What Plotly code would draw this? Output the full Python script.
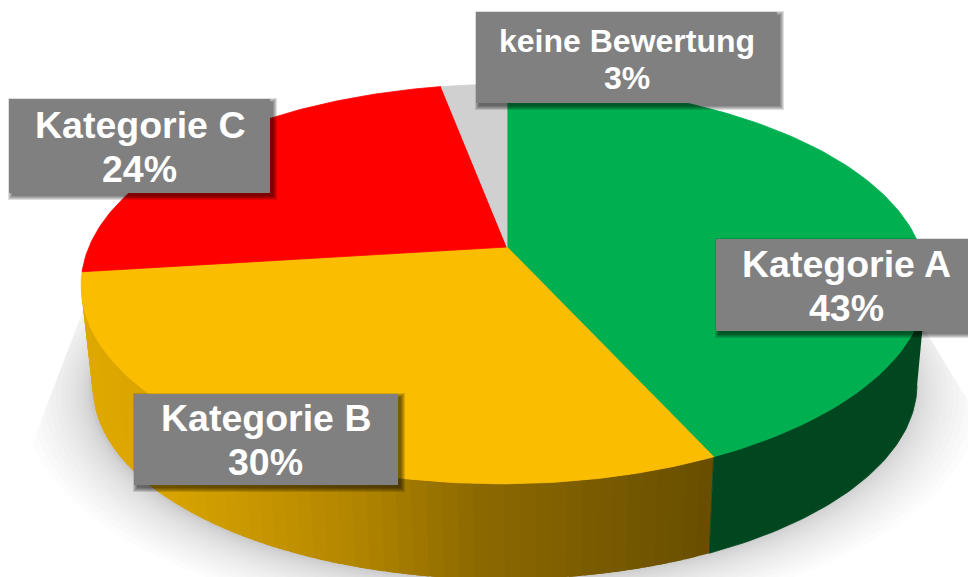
import numpy as np
import plotly.graph_objects as go

# ---- data ----
categories = ["Kategorie A", "Kategorie B", "Kategorie C", "keine Bewertung"]
values = [43, 30, 24, 3]
percent_labels = ["43%", "30%", "24%", "3%"]
top_colors = ["#00B050", "#FBBD00", "#FF0000", "#D0D0D0"]
side_green = "#00471F"

# ---- projection of the tilted disc ----
W, H = 968, 577
CX, CY = 507, 247
A, B, K, SHEAR = 415.5, 193, 0.185, 3
A2, B2, CY2, DX2 = 405, 187, 350, 1


def proj(theta, a=A, b=B, cy=CY, cx=CX):
    t = np.radians(theta)
    X, Y = np.sin(t), np.cos(t)
    w = 1 + K * Y
    return cx + a * X / w + SHEAR * (Y / w - 1 / (1 + K)), cy - b * Y / w


def poly(fig, xs, ys, fill, line=None):
    fig.add_trace(go.Scatter(
        x=list(xs), y=list(ys), mode="lines", fill="toself", fillcolor=fill,
        line=dict(color=line or fill, width=0.8 if line else 0),
        hoverinfo="skip", showlegend=False))


fig = go.Figure()

# ---- soft shadow ----
def left_line(y):
    return 83 - (y - 310) * 0.383


def right_line(y):
    return 927 + (y - 333) * 0.61


n_shadow = 18
for i in range(n_shadow):
    u = i / (n_shadow - 1)
    scale = 1 + 0.16 * (1 - u) ** 1.9
    th = np.linspace(70, 290, 160)
    x, y = proj(th, A2 * scale, B2 * scale, 386 - 0.191 * B2 * scale + 14 * (1 - u), CX - 2)
    x = np.minimum(np.maximum(x, left_line(y)), right_line(y))
    x = np.r_[927, x, 83]
    y = np.r_[333, y, 310]
    poly(fig, x[::-1], y[::-1], "rgba(0,0,0,0.0125)")

# ---- slice angles from the values ----
total = sum(values)
bounds = np.r_[0, np.cumsum(values)] / total * 360

# ---- side wall: yellow, shaded along x (each strip overlaps the next) ----
grad_x = [95, 160, 260, 370, 480, 600, 715]
grad_r = [222, 218, 200, 176, 142, 122, 104]
grad_g = [168, 165, 150, 132, 106, 92, 78]
edges = np.linspace(bounds[1], 259.3, 60)
for a0, a1 in zip(edges[:-1], edges[1:]):
    th = np.array([a0, min(a1 + 1.5, 259.3)])
    xt, yt = proj(th)
    xb, yb = proj(th, A2, B2, CY2, CX + DX2)
    xm = (proj(a0)[0] + proj(a0, A2, B2, CY2, CX + DX2)[0]) / 2
    col = f"rgb({np.interp(xm, grad_x, grad_r):.0f},{np.interp(xm, grad_x, grad_g):.0f},0)"
    poly(fig, np.r_[xt, xb[::-1]], np.r_[yt, yb[::-1]], col)

# ---- side wall: green ----
th = np.linspace(100.7, bounds[1], 60)
xt, yt = proj(th)
xb, yb = proj(th, A2, B2, CY2, CX + DX2)
poly(fig, np.r_[xt, xb[::-1]], np.r_[yt, yb[::-1]], side_green, side_green)

# ---- top faces ----
for i, color in enumerate(top_colors):
    th = np.linspace(bounds[i], bounds[i + 1], 120)
    x, y = proj(th)
    poly(fig, np.r_[CX, x, CX], np.r_[CY, y, CY], color, color)

# ---- labels ----
boxes = [(716, 239, 975, 331), (134, 394, 398, 485), (9, 99, 270, 193), (476, 12, 777, 103)]
font_sizes = [37.5, 37.5, 37.5, 32]
line_y = [(264, 308), (418, 462), (125, 169), (41, 78)]
text_x = [846.5, 265.5, 139.5, 626.5]
shapes, annotations = [], []
for (x0, y0, x1, y1), fs, ly, tx, cat, pct in zip(boxes, font_sizes, line_y, text_x, categories, percent_labels):
    for g in range(4, -1, -1):
        shapes.append(dict(type="rect", xref="x", yref="y", x0=x0 + 3 - g, x1=x1 + 3 + g, y0=y0 + 3 - g,
                           y1=y1 + 3 + g, line_width=0, fillcolor="rgba(0,0,0,0.13)", layer="above"))
    shapes.append(dict(type="rect", xref="x", yref="y", x0=x0, x1=x1, y0=y0, y1=y1, line_width=0,
                       fillcolor="#808080", layer="above"))
    for txt, yy in zip((cat, pct), ly):
        annotations.append(dict(x=tx, y=yy, xref="x", yref="y", text=f"<b>{txt}</b>", showarrow=False,
                                xanchor="center", yanchor="middle",
                                font=dict(family="Liberation Sans", size=fs, color="white")))

fig.update_layout(
    width=W, height=H, margin=dict(l=0, r=0, t=0, b=0),
    paper_bgcolor="white", plot_bgcolor="white", showlegend=False,
    xaxis=dict(range=[0, W], visible=False, fixedrange=True),
    yaxis=dict(range=[H, 0], visible=False, fixedrange=True),
    shapes=shapes, annotations=annotations,
)
fig.write_html("out.html", config=dict(displayModeBar=False),
               post_script="document.body.style.margin='0';document.body.style.overflow='hidden';")
